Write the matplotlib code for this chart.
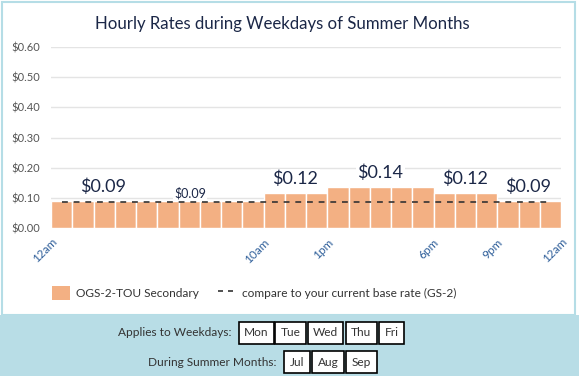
import numpy as np
import matplotlib
matplotlib.use("Agg")
import matplotlib.pyplot as plt
from matplotlib.patches import Rectangle, Patch
from matplotlib.lines import Line2D

plt.rcParams['font.family'] = ['Lato', 'DejaVu Sans']

# --- data ---
TITLE = "Hourly Rates during Weekdays of Summer Months"
rates = [0.089, 0.089, 0.089, 0.089, 0.089, 0.089, 0.089, 0.089, 0.089, 0.089,
         0.117, 0.117, 0.117,
         0.136, 0.136, 0.136, 0.136, 0.136,
         0.117, 0.117, 0.117,
         0.089, 0.089, 0.089]
base_rate = 0.086
tick_hours = [0, 10, 13, 18, 21, 24]
tick_labels = ["12am", "10am", "1pm", "6pm", "9pm", "12am"]
value_labels = ["$0.09", "$0.09", "$0.12", "$0.14", "$0.12", "$0.09"]
weekdays = ["Mon", "Tue", "Wed", "Thu", "Fri"]
months = ["Jul", "Aug", "Sep"]

W, H = 579, 376
BAR_C = "#f3b083"
NAVY = "#1b2747"

fig = plt.figure(figsize=(W / 100, H / 100), dpi=100)

def fx(px): return px / W
def fy(py): return 1 - py / H

# outer frame + bottom panel
fig.patches.append(Rectangle((fx(2), fy(315)), fx(575) - fx(2), fy(2) - fy(315),
                             transform=fig.transFigure, fc="white", ec="#b5dde6", lw=1.5, zorder=-2))
fig.patches.append(Rectangle((0, 0), 1, fy(315), transform=fig.transFigure,
                             fc="#b8dde6", ec="none", zorder=-1))

ax = fig.add_axes([fx(51), fy(228), fx(561) - fx(51), fy(47) - fy(228)])
ax.set_facecolor("none")
x = np.arange(len(rates))
ax.bar(x, rates, width=1, align="edge", color=BAR_C, edgecolor="white", lw=1, zorder=2)
ax.hlines(base_rate, 0.5, len(rates) - 0.5, colors="#333333", linestyles=(0, (3.5, 3.5)), lw=1.2, zorder=3)

ax.set_xlim(0, 24)
ax.set_ylim(0, 0.6)
ax.set_yticks(np.arange(0, 0.61, 0.1))
ax.set_yticklabels([f"${v:.2f}" for v in np.arange(0, 0.61, 0.1)], color="#555555", fontsize=8)
ax.grid(axis="y", color="#e4e4e4", lw=1, zorder=0)
ax.set_axisbelow(True)
for s in ax.spines.values():
    s.set_visible(False)
ax.tick_params(length=0, pad=8)
ax.set_xticks(tick_hours)
ax.set_xticklabels(tick_labels, rotation=45, ha="right", va="top", rotation_mode="anchor",
                   color="#2f5f9a", fontsize=8.5)
ax.tick_params(axis="x", pad=6)

# value labels: (x position in hours, bar index, font size, offset px)
label_pos = [(2.45, 2, 13, 14), (6.55, 6, 9, 8), (11.5, 11, 13, 14),
             (15.5, 15, 13, 14), (19.5, 19, 13, 14), (22.45, 22, 13, 14)]
for txt, (xp, bi, fs, off) in zip(value_labels, label_pos):
    ax.annotate(txt, (xp, rates[bi]), xytext=(0, off * 0.72), textcoords="offset points",
                ha="center", va="center", fontsize=fs, color=NAVY, zorder=4,
                bbox=dict(boxstyle="square,pad=0.1", fc="white", ec="none"))

fig.text(fx(282), fy(24), TITLE, ha="center", va="center", fontsize=12.1, color=NAVY)

# legend
handles = [Patch(fc=BAR_C, ec="none", label="OGS-2-TOU Secondary"),
           Line2D([], [], color="#333333", ls=(0, (3, 3)), lw=1.2,
                  label="compare to your current base rate (GS-2)")]
fig.legend(handles=handles, loc="center", bbox_to_anchor=(fx(254), fy(293)), ncol=2,
           frameon=False, fontsize=8.6, handlelength=1.5, handleheight=1.5,
           columnspacing=1.6, handletextpad=0.5, labelcolor="#333333")

# bottom panel
fig.text(fx(232), fy(333), "Applies to Weekdays:", ha="right", va="center", fontsize=8.6, color="#333333")
fig.text(fx(276), fy(362), "During Summer Months:", ha="right", va="center", fontsize=8.6, color="#333333")
box = dict(boxstyle="square,pad=0.45", fc="white", ec="black", lw=1.2)
for d, xc in zip(weekdays, [256.5, 290.5, 325.5, 361, 391.5]):
    fig.text(fx(xc), fy(333), d, ha="center", va="center", fontsize=8.6, color="#333333", bbox=box)
for m, xc in zip(months, [297, 328, 361.5]):
    fig.text(fx(xc), fy(362), m, ha="center", va="center", fontsize=8.6, color="#333333", bbox=box)

fig.savefig("out.png", dpi=100)
